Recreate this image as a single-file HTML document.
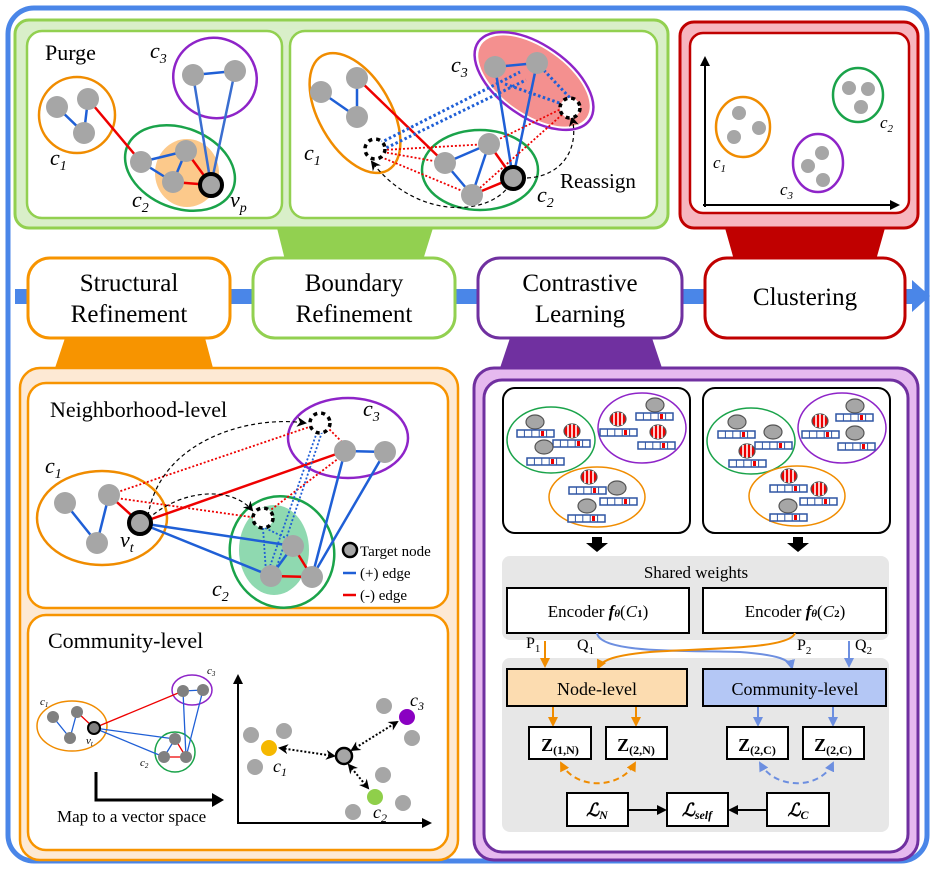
<!DOCTYPE html>
<html><head><meta charset="utf-8"><style>
html,body{margin:0;padding:0;background:#fff}
svg{display:block}
text{font-family:"Liberation Serif",serif;fill:#000}
.it{font-style:italic}
</style></head><body>
<svg width="935" height="869" viewBox="0 0 935 869" xmlns="http://www.w3.org/2000/svg">
<defs>
<marker id="ak2" markerWidth="10" markerHeight="10" refX="8" refY="5" orient="auto-start-reverse" markerUnits="userSpaceOnUse"><path d="M0,0 L10,5 L0,10 L3,5z" fill="#000"/></marker>
<marker id="ao" markerWidth="10" markerHeight="10" refX="8" refY="5" orient="auto-start-reverse" markerUnits="userSpaceOnUse"><path d="M0,0 L10,5 L0,10z" fill="#f08c00"/></marker>
<marker id="ab" markerWidth="10" markerHeight="10" refX="8" refY="5" orient="auto-start-reverse" markerUnits="userSpaceOnUse"><path d="M0,0 L10,5 L0,10z" fill="#6d8fe0"/></marker>
<marker id="abk" markerWidth="10" markerHeight="10" refX="8" refY="5" orient="auto" markerUnits="userSpaceOnUse"><path d="M0,0 L10,5 L0,10z" fill="#000"/></marker>
<g id="bar"><rect x="0" y="0" width="37" height="7" fill="#fff" stroke="#2f55a4" stroke-width="1.5"/><path d="M7.4,0v7M14.8,0v7M22.2,0v7M29.6,0v7" stroke="#2f55a4" stroke-width="1"/><rect x="24" y="1" width="3" height="5" fill="#e00"/></g>
<g id="gn"><ellipse cx="0" cy="0" rx="9" ry="7" fill="#a6a6a6" stroke="#555" stroke-width="1.2"/></g>
<g id="rn"><ellipse cx="0" cy="0" rx="8" ry="7" fill="#e00" stroke="#555" stroke-width="1.2"/><path d="M-4,-6v12M0,-7v14M4,-6v12" stroke="#fff" stroke-width="1.6"/></g>
</defs>

<rect x="8" y="8" width="919" height="853" rx="26" fill="#fff" stroke="#4a86e8" stroke-width="5"/>

<!-- green panel -->
<rect x="15" y="20" width="653" height="208" rx="14" fill="#d9efc9" stroke="#92d050" stroke-width="3"/>
<rect x="27" y="31" width="255" height="187" rx="15" fill="#fff" stroke="#92d050" stroke-width="2.5"/>
<rect x="290" y="31" width="367" height="187" rx="15" fill="#fff" stroke="#92d050" stroke-width="2.5"/>
<polygon points="277,228 433,228 423,260 285,260" fill="#92d050"/>

<!-- red panel -->
<rect x="680" y="22" width="238" height="206" rx="14" fill="#f7b6bf" stroke="#c00000" stroke-width="3"/>
<rect x="690" y="33" width="219" height="180" rx="13" fill="#fff" stroke="#c00000" stroke-width="2.5"/>
<polygon points="725,228 885,228 876,260 734,260" fill="#c00000"/>

<!-- pipeline -->
<rect x="15" y="289" width="900" height="15" fill="#4a86e8"/>
<polygon points="912,280 930,296 912,312" fill="#4a86e8"/>
<polygon points="65,338 205,338 213,368 55,368" fill="#f79400"/>
<polygon points="510,338 652,338 662,368 500,368" fill="#7030a0"/>
<rect x="28" y="258" width="202" height="80" rx="22" fill="#fff" stroke="#f79400" stroke-width="3"/>
<rect x="253" y="258" width="202" height="80" rx="22" fill="#fff" stroke="#92d050" stroke-width="3"/>
<rect x="478" y="258" width="204" height="80" rx="22" fill="#fff" stroke="#7030a0" stroke-width="3"/>
<rect x="705" y="258" width="200" height="80" rx="22" fill="#fff" stroke="#c00000" stroke-width="3"/>
<g font-size="25" text-anchor="middle">
<text x="129" y="291">Structural</text><text x="129" y="322">Refinement</text>
<text x="354" y="291">Boundary</text><text x="354" y="322">Refinement</text>
<text x="580" y="291">Contrastive</text><text x="580" y="322">Learning</text>
<text x="805" y="305">Clustering</text>
</g>

<!-- Purge -->
<text x="45" y="60" font-size="22">Purge</text>
<ellipse cx="187" cy="173" rx="32" ry="34" fill="#fcc98b"/>
<ellipse cx="215" cy="78" rx="42" ry="40" transform="rotate(20 215 78)" fill="none" stroke="#8e24c8" stroke-width="2.5"/>
<ellipse cx="77" cy="115" rx="38" ry="38" fill="none" stroke="#f08c00" stroke-width="2.5"/>
<ellipse cx="180" cy="168" rx="57" ry="40" transform="rotate(22 180 168)" fill="none" stroke="#1aa34a" stroke-width="2.5"/>
<g stroke-width="2.5">
<path d="M57,107L84,133M88,99L84,133M141,162L186,151M141,162L173,182M186,151L173,182M193,75L235,71" stroke="#1f5fd6"/>
<path d="M193,75L211,185M235,71L211,185" stroke="#3a6ed0"/>
<path d="M88,99L141,162M186,151L211,185M173,182L211,185" stroke="#e00"/>
</g>
<g fill="#a6a6a6"><circle cx="57" cy="107" r="11"/><circle cx="88" cy="99" r="11"/><circle cx="84" cy="133" r="11"/><circle cx="193" cy="75" r="11"/><circle cx="235" cy="71" r="11"/><circle cx="141" cy="162" r="11"/><circle cx="186" cy="151" r="11"/><circle cx="173" cy="182" r="11"/></g>
<circle cx="211" cy="185" r="11" fill="#a6a6a6" stroke="#000" stroke-width="4"/>
<g font-size="22">
<text x="150" y="58" class="it">c<tspan font-size="14" dy="5">3</tspan></text>
<text x="50" y="165" class="it">c<tspan font-size="14" dy="5">1</tspan></text>
<text x="132" y="207" class="it">c<tspan font-size="14" dy="5">2</tspan></text>
<text x="230" y="207" class="it">v<tspan font-size="14" dy="5">p</tspan></text>
</g>

<!-- Boundary -->
<ellipse cx="534" cy="81" rx="64" ry="33" transform="rotate(35 534 81)" fill="#f4908f"/>
<ellipse cx="534" cy="81" rx="68" ry="36" transform="rotate(35 534 81)" fill="none" stroke="#8e24c8" stroke-width="2.5"/>
<ellipse cx="355" cy="113" rx="36" ry="66" transform="rotate(-30 355 113)" fill="none" stroke="#f08c00" stroke-width="2.5"/>
<ellipse cx="480" cy="170" rx="58" ry="40" fill="none" stroke="#1aa34a" stroke-width="2.5"/>
<g stroke-width="2.5" fill="none">
<path d="M321,92L357,117M357,78L357,117M495,67L537,63M495,67L513,178M537,63L513,178M445,163L489,144M445,163L472,195M489,144L472,195" stroke="#1f5fd6"/>
<path d="M357,78L445,163M489,144L513,178M472,195L513,178" stroke="#e00"/>
<path d="M380,143L520,72M382,150L526,80M505,84L565,105M537,63L572,100" stroke="#1f5fd6" stroke-dasharray="2.5,2.5" stroke-width="3"/>
<path d="M383,150L489,144M383,152L445,163M381,157L472,195M565,112L472,195M563,108L489,144" stroke="#e00" stroke-dasharray="2,2" stroke-width="1.8"/>
<path d="M513,178C500,215 420,225 372,162" stroke="#000" stroke-width="1.2" stroke-dasharray="4,3" marker-end="url(#ak2)"/>
<path d="M520,178C560,180 580,150 572,118" stroke="#000" stroke-width="1.2" stroke-dasharray="4,3" marker-end="url(#ak2)"/>
</g>
<g fill="#a6a6a6"><circle cx="321" cy="92" r="11"/><circle cx="357" cy="78" r="11"/><circle cx="357" cy="117" r="11"/><circle cx="495" cy="67" r="11"/><circle cx="537" cy="63" r="11"/><circle cx="445" cy="163" r="11"/><circle cx="489" cy="144" r="11"/><circle cx="472" cy="195" r="11"/></g>
<circle cx="513" cy="178" r="11" fill="#a6a6a6" stroke="#000" stroke-width="4"/>
<circle cx="375" cy="149" r="10" fill="#fff" stroke="#000" stroke-width="3.5" stroke-dasharray="4,4"/>
<circle cx="570" cy="108" r="10" fill="#fff" stroke="#000" stroke-width="3.5" stroke-dasharray="4,4"/>
<text x="560" y="188" font-size="21">Reassign</text>
<g font-size="22">
<text x="451" y="72" class="it">c<tspan font-size="14" dy="5">3</tspan></text>
<text x="304" y="160" class="it">c<tspan font-size="14" dy="5">1</tspan></text>
<text x="537" y="202" class="it">c<tspan font-size="14" dy="5">2</tspan></text>
</g>

<!-- Clustering -->
<path d="M705,207V58" stroke="#000" stroke-width="2" marker-end="url(#abk)"/>
<path d="M703,205H898" stroke="#000" stroke-width="2" marker-end="url(#abk)"/>
<ellipse cx="743" cy="127" rx="27" ry="30" fill="none" stroke="#f08c00" stroke-width="2.5"/>
<ellipse cx="858" cy="95" rx="25" ry="27" fill="none" stroke="#1aa34a" stroke-width="2.5"/>
<ellipse cx="818" cy="163" rx="25" ry="29" fill="none" stroke="#8e24c8" stroke-width="2.5"/>
<g fill="#a6a6a6"><circle cx="739" cy="113" r="7"/><circle cx="759" cy="128" r="7"/><circle cx="734" cy="137" r="7"/><circle cx="849" cy="88" r="7"/><circle cx="868" cy="89" r="7"/><circle cx="861" cy="107" r="7"/><circle cx="822" cy="153" r="7"/><circle cx="808" cy="166" r="7"/><circle cx="823" cy="180" r="7"/></g>
<g font-size="17">
<text x="713" y="168" class="it">c<tspan font-size="11" dy="4">1</tspan></text>
<text x="880" y="128" class="it">c<tspan font-size="11" dy="4">2</tspan></text>
<text x="780" y="195" class="it">c<tspan font-size="11" dy="4">3</tspan></text>
</g>

<!-- Bottom-left orange panel -->
<rect x="20" y="368" width="438" height="492" rx="20" fill="#fde9d4" stroke="#f79400" stroke-width="2.5"/>
<rect x="28" y="383" width="420" height="225" rx="18" fill="#fff" stroke="#f79400" stroke-width="2.5"/>
<rect x="28" y="615" width="420" height="235" rx="18" fill="#fff" stroke="#f79400" stroke-width="2.5"/>
<text x="50" y="417" font-size="22">Neighborhood-level</text>
<ellipse cx="274" cy="550" rx="35" ry="45" fill="#8fd9b0"/>
<ellipse cx="348" cy="438" rx="60" ry="40" fill="none" stroke="#8e24c8" stroke-width="2.5"/>
<ellipse cx="102" cy="518" rx="65" ry="47" fill="none" stroke="#f08c00" stroke-width="2.5"/>
<ellipse cx="282" cy="552" rx="52" ry="56" transform="rotate(-15 282 552)" fill="none" stroke="#1aa34a" stroke-width="2.5"/>
<g fill="none" stroke-width="2.5">
<path d="M65,503L97,543M109,495L97,543M140,523L293,546M140,523L271,576M293,546L271,576M345,451L385,452M345,451L312,577M385,452L312,577" stroke="#1f5fd6"/>
<path d="M109,495L140,523M140,523L345,451M293,546L312,577M271,576L312,577" stroke="#e00"/>
<path d="M109,495L315,425M109,497L258,518M345,445L328,428M343,455L268,512" stroke="#e00" stroke-width="1.8" stroke-dasharray="2,2"/>
<path d="M317,432L268,572M322,432L275,572M263,528L266,572M265,528L290,540" stroke="#1f5fd6" stroke-width="1.8" stroke-dasharray="2,2"/>
<path d="M148,516C160,440 250,415 305,423" stroke="#000" stroke-width="1.2" stroke-dasharray="4,3" marker-end="url(#ak2)"/>
<path d="M148,519C180,490 230,485 252,510" stroke="#000" stroke-width="1.2" stroke-dasharray="4,3" marker-end="url(#ak2)"/>
</g>
<g fill="#a6a6a6"><circle cx="65" cy="503" r="11"/><circle cx="109" cy="495" r="11"/><circle cx="97" cy="543" r="11"/><circle cx="345" cy="451" r="11"/><circle cx="385" cy="452" r="11"/><circle cx="293" cy="546" r="11"/><circle cx="271" cy="576" r="11"/><circle cx="312" cy="577" r="11"/></g>
<circle cx="140" cy="523" r="11" fill="#a6a6a6" stroke="#000" stroke-width="4"/>
<circle cx="320" cy="423" r="10" fill="#fff" stroke="#000" stroke-width="3.5" stroke-dasharray="4,4"/>
<circle cx="263" cy="518" r="10" fill="#fff" stroke="#000" stroke-width="3.5" stroke-dasharray="4,4"/>
<circle cx="350" cy="550" r="7" fill="#a6a6a6" stroke="#000" stroke-width="2.5"/>
<text x="360" y="556" font-size="15">Target node</text>
<path d="M343,573H356" stroke="#1f5fd6" stroke-width="2.5"/><text x="360" y="578" font-size="15">(+) edge</text>
<path d="M343,595H356" stroke="#e00" stroke-width="2.5"/><text x="360" y="600" font-size="15">(-) edge</text>
<g font-size="22">
<text x="45" y="473" class="it">c<tspan font-size="14" dy="5">1</tspan></text>
<text x="212" y="596" class="it">c<tspan font-size="14" dy="5">2</tspan></text>
<text x="363" y="416" class="it">c<tspan font-size="14" dy="5">3</tspan></text>
<text x="120" y="547" class="it">v<tspan font-size="14" dy="5">t</tspan></text>
</g>
<text x="48" y="648" font-size="22">Community-level</text>
<ellipse cx="72" cy="726" rx="35" ry="25" fill="none" stroke="#f08c00" stroke-width="1.5"/>
<ellipse cx="192" cy="690" rx="20" ry="15" fill="none" stroke="#8e24c8" stroke-width="1.5"/>
<ellipse cx="175" cy="752" rx="20" ry="20" fill="none" stroke="#1aa34a" stroke-width="1.5"/>
<g stroke-width="1.3"><path d="M53,717L70,738M77,712L70,738M94,728L175,739M94,728L164,757M164,757L175,739M183,691L203,690M183,691L186,757M203,690L186,757" stroke="#1f5fd6"/><path d="M77,712L94,728M94,728L183,691M175,739L186,757M164,757L186,757" stroke="#e00"/></g>
<g fill="#808080"><circle cx="53" cy="717" r="6"/><circle cx="77" cy="712" r="6"/><circle cx="70" cy="738" r="6"/><circle cx="183" cy="691" r="6"/><circle cx="203" cy="690" r="6"/><circle cx="175" cy="739" r="6"/><circle cx="164" cy="757" r="6"/><circle cx="186" cy="757" r="6"/></g>
<circle cx="94" cy="728" r="6" fill="#808080" stroke="#000" stroke-width="2"/>
<g font-size="11" fill="#555"><text x="40" y="705" class="it">c<tspan font-size="7" dy="2">1</tspan></text><text x="140" y="766" class="it">c<tspan font-size="7" dy="2">2</tspan></text><text x="207" y="674" class="it">c<tspan font-size="7" dy="2">3</tspan></text><text x="86" y="744" class="it">v<tspan font-size="7" dy="2">t</tspan></text></g>
<path d="M96,772V800H214" fill="none" stroke="#000" stroke-width="3"/>
<polygon points="212,793 224,800 212,807" fill="#000"/>
<text x="57" y="822" font-size="17">Map to a vector space</text>
<path d="M238,824V676" stroke="#000" stroke-width="2" marker-end="url(#abk)"/>
<path d="M237,823H430" stroke="#000" stroke-width="2" marker-end="url(#abk)"/>
<g fill="#a6a6a6"><circle cx="251" cy="735" r="8"/><circle cx="284" cy="731" r="8"/><circle cx="255" cy="767" r="8"/><circle cx="384" cy="706" r="8"/><circle cx="412" cy="738" r="8"/><circle cx="383" cy="775" r="8"/><circle cx="353" cy="812" r="8"/><circle cx="403" cy="803" r="8"/></g>
<circle cx="269" cy="748" r="8" fill="#f5b800"/><circle cx="407" cy="717" r="8" fill="#8a00c2"/><circle cx="375" cy="797" r="8" fill="#8fcf4a"/>
<circle cx="344" cy="756" r="8" fill="#a6a6a6" stroke="#000" stroke-width="2.5"/>
<g stroke="#000" stroke-width="2" stroke-dasharray="2,2" fill="none"><path d="M334,756L280,748" marker-end="url(#ak2)" marker-start="url(#ak2)"/><path d="M352,750L397,722" marker-end="url(#ak2)" marker-start="url(#ak2)"/><path d="M349,765L368,788" marker-end="url(#ak2)" marker-start="url(#ak2)"/></g>
<g font-size="18"><text x="273" y="772" class="it">c<tspan font-size="12" dy="4">1</tspan></text><text x="410" y="706" class="it">c<tspan font-size="12" dy="4">3</tspan></text><text x="373" y="818" class="it">c<tspan font-size="12" dy="4">2</tspan></text></g>

<!-- Bottom-right purple panel -->
<rect x="474" y="368" width="444" height="492" rx="20" fill="#e6b9ef" stroke="#7030a0" stroke-width="3"/>
<rect x="484" y="380" width="424" height="472" rx="18" fill="#fff" stroke="#7030a0" stroke-width="3"/>
<rect x="503" y="388" width="187" height="145" rx="12" fill="#fff" stroke="#000" stroke-width="2"/>
<rect x="703" y="388" width="187" height="145" rx="12" fill="#fff" stroke="#000" stroke-width="2"/>
<ellipse cx="551" cy="440" rx="44" ry="33" fill="none" stroke="#1aa34a" stroke-width="1.5"/>
<ellipse cx="642" cy="428" rx="44" ry="35" fill="none" stroke="#8e24c8" stroke-width="1.5"/>
<ellipse cx="597" cy="497" rx="48" ry="30" fill="none" stroke="#f08c00" stroke-width="1.5"/>
<use href="#gn" x="535" y="422"/><use href="#bar" x="517" y="430"/>
<use href="#rn" x="572" y="431"/><use href="#bar" x="553" y="440"/>
<use href="#gn" x="544" y="447"/><use href="#bar" x="527" y="458"/>
<use href="#rn" x="618" y="419"/><use href="#bar" x="600" y="429"/>
<use href="#gn" x="655" y="405"/><use href="#bar" x="636" y="413"/>
<use href="#rn" x="658" y="432"/><use href="#bar" x="638" y="442"/>
<use href="#rn" x="589" y="477"/><use href="#bar" x="569" y="487"/>
<use href="#gn" x="617" y="488"/><use href="#bar" x="600" y="498"/>
<use href="#gn" x="587" y="506"/><use href="#bar" x="568" y="515"/>
<ellipse cx="751" cy="441" rx="44" ry="33" fill="none" stroke="#1aa34a" stroke-width="1.5"/>
<ellipse cx="842" cy="428" rx="44" ry="35" fill="none" stroke="#8e24c8" stroke-width="1.5"/>
<ellipse cx="797" cy="496" rx="48" ry="30" fill="none" stroke="#f08c00" stroke-width="1.5"/>
<use href="#gn" x="737" y="422"/><use href="#bar" x="718" y="431"/>
<use href="#gn" x="773" y="432"/><use href="#bar" x="755" y="442"/>
<use href="#rn" x="747" y="451"/><use href="#bar" x="729" y="460"/>
<use href="#rn" x="820" y="421"/><use href="#bar" x="802" y="431"/>
<use href="#gn" x="855" y="406"/><use href="#bar" x="836" y="414"/>
<use href="#gn" x="855" y="433"/><use href="#bar" x="838" y="443"/>
<use href="#rn" x="789" y="476"/><use href="#bar" x="770" y="485"/>
<use href="#rn" x="819" y="489"/><use href="#bar" x="800" y="498"/>
<use href="#gn" x="788" y="506"/><use href="#bar" x="770" y="514"/>
<polygon points="592,537 602,537 602,543 608,543 597,552 586,543 592,543" fill="#000"/>
<polygon points="793,537 803,537 803,543 809,543 798,552 787,543 793,543" fill="#000"/>
<rect x="502" y="556" width="387" height="84" rx="8" fill="#e7e7e7"/>
<rect x="502" y="658" width="387" height="174" rx="8" fill="#e7e7e7"/>
<text x="696" y="578" font-size="17" text-anchor="middle">Shared weights</text>
<rect x="507" y="588" width="182" height="45" fill="#fff" stroke="#000" stroke-width="2"/>
<rect x="703" y="588" width="183" height="45" fill="#fff" stroke="#000" stroke-width="2"/>
<text x="598" y="617" font-size="17" text-anchor="middle">Encoder <tspan class="it" font-weight="bold">f</tspan><tspan font-size="11" font-weight="bold" class="it">θ</tspan>(<tspan class="it">C</tspan><tspan font-size="11" font-weight="bold">1</tspan>)</text>
<text x="795" y="617" font-size="17" text-anchor="middle">Encoder <tspan class="it" font-weight="bold">f</tspan><tspan font-size="11" font-weight="bold" class="it">θ</tspan>(<tspan class="it">C</tspan><tspan font-size="11" font-weight="bold">2</tspan>)</text>
<g font-size="16"><text x="526" y="648">P<tspan font-size="11" dy="4">1</tspan></text><text x="577" y="650">Q<tspan font-size="11" dy="4">1</tspan></text><text x="797" y="650">P<tspan font-size="11" dy="4">2</tspan></text><text x="855" y="650">Q<tspan font-size="11" dy="4">2</tspan></text></g>
<g fill="none" stroke-width="2">
<path d="M545,641V666" stroke="#f08c00" marker-end="url(#ao)"/>
<path d="M849,641V666" stroke="#6d8fe0" marker-end="url(#ab)"/>
<path d="M597,633C600,655 700,650 740,652C780,655 790,660 792,668" stroke="#6d8fe0" marker-end="url(#ab)"/>
<path d="M795,633C790,650 700,648 650,652C615,655 602,660 598,668" stroke="#f08c00" marker-end="url(#ao)"/>
<path d="M553,707V725" stroke="#f08c00" marker-end="url(#ao)"/>
<path d="M636,707V725" stroke="#f08c00" marker-end="url(#ao)"/>
<path d="M758,707V725" stroke="#6d8fe0" marker-end="url(#ab)"/>
<path d="M833,707V725" stroke="#6d8fe0" marker-end="url(#ab)"/>
<path d="M561,763C575,790 620,790 635,763" stroke="#f08c00" stroke-dasharray="6,4" marker-start="url(#ao)" marker-end="url(#ao)"/>
<path d="M760,763C775,790 820,790 833,763" stroke="#6d8fe0" stroke-dasharray="6,4" marker-start="url(#ab)" marker-end="url(#ab)"/>
<path d="M628,810H665" stroke="#000" marker-end="url(#abk)"/>
<path d="M767,810H730" stroke="#000" marker-end="url(#abk)"/>
</g>
<rect x="507" y="669" width="180" height="37" fill="#fcdcb0" stroke="#000" stroke-width="2"/>
<rect x="703" y="669" width="183" height="37" fill="#b4c7f5" stroke="#000" stroke-width="2"/>
<text x="597" y="695" font-size="18" text-anchor="middle">Node-level</text>
<text x="795" y="695" font-size="18" text-anchor="middle">Community-level</text>
<g fill="#fff" stroke="#000" stroke-width="2"><rect x="529" y="727" width="62" height="32"/><rect x="606" y="727" width="61" height="32"/><rect x="727" y="727" width="61" height="32"/><rect x="803" y="727" width="61" height="32"/><rect x="567" y="793" width="61" height="33"/><rect x="667" y="793" width="61" height="33"/><rect x="767" y="793" width="62" height="33"/></g>
<g font-size="18" font-weight="bold" text-anchor="middle">
<text x="560" y="751">Z<tspan font-size="12" dy="3">(1,N)</tspan></text>
<text x="636" y="751">Z<tspan font-size="12" dy="3">(2,N)</tspan></text>
<text x="757" y="751">Z<tspan font-size="12" dy="3">(2,C)</tspan></text>
<text x="833" y="751">Z<tspan font-size="12" dy="3">(2,C)</tspan></text>
<text x="597" y="816" class="it">ℒ<tspan font-size="12" dy="3">N</tspan></text>
<text x="697" y="816" class="it">ℒ<tspan font-size="12" dy="3">self</tspan></text>
<text x="798" y="816" class="it">ℒ<tspan font-size="12" dy="3">C</tspan></text>
</g>
</svg>
</body></html>
